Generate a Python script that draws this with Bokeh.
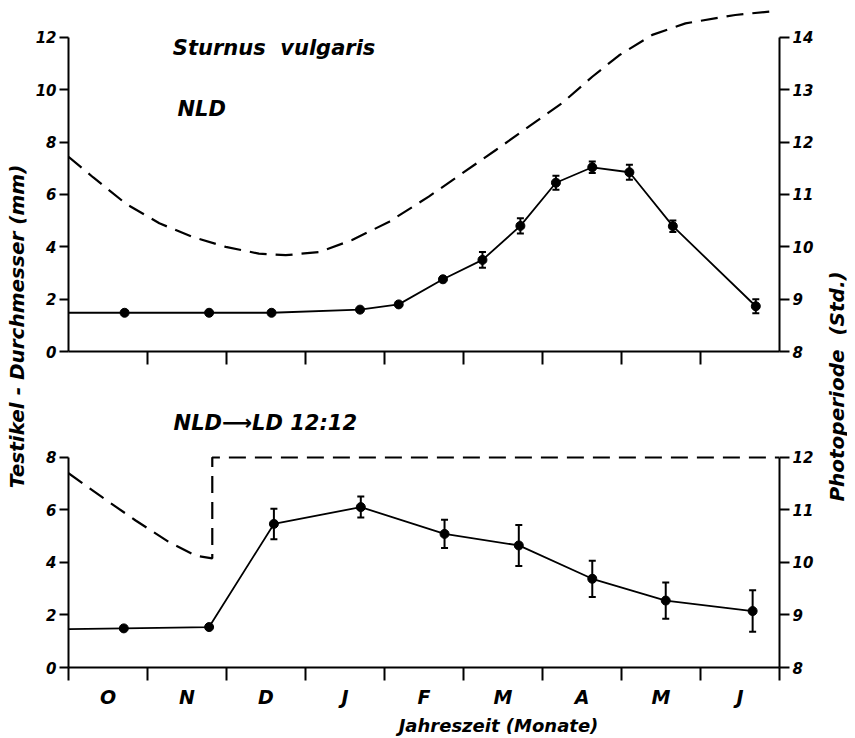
from math import pi
from bokeh.plotting import figure
from bokeh.layouts import row, column
from bokeh.models import (ColumnDataSource, Range1d, LinearAxis, FixedTicker,
                          Whisker, TeeHead, Label)
from bokeh.embed import file_html
from bokeh.resources import INLINE

FONT = "DejaVu Sans"

# ---------------- data ----------------
month_labels = ["O", "N", "D", "J", "F", "M", "A", "M", "J"]
month_centers = [0.5, 1.5, 2.5, 3.5, 4.5, 5.5, 6.5, 7.5, 8.5]
month_bounds = [0, 1, 2, 3, 4, 5, 6, 7, 8, 9]

# upper panel: natural day length (NLD)
nld_x = [0.71, 1.78, 2.57, 3.69, 4.18, 4.74, 5.24, 5.72, 6.17, 6.63, 7.10, 7.65, 8.70]
nld_mm = [1.48, 1.48, 1.48, 1.60, 1.80, 2.76, 3.50, 4.80, 6.45, 7.04, 6.85, 4.79, 1.73]
nld_err = [0, 0, 0, 0, 0, 0, 0.30, 0.29, 0.27, 0.22, 0.29, 0.22, 0.27]
nld_start_mm = 1.48

nld_photo_x = [0.0, 0.31, 0.73, 1.15, 1.57, 1.99, 2.41, 2.75, 3.17, 3.59, 4.06,
               4.56, 4.98, 5.41, 5.83, 6.25, 6.63, 6.97, 7.39, 7.81, 8.44, 8.9]
nld_photo_h = [11.72, 11.33, 10.82, 10.45, 10.19, 10.00, 9.87, 9.84, 9.90, 10.13, 10.48,
               10.96, 11.40, 11.85, 12.30, 12.75, 13.25, 13.66, 14.05, 14.27, 14.43, 14.50]

# lower panel: NLD -> LD 12:12
ld_x = [0.70, 1.78, 2.60, 3.70, 4.76, 5.70, 6.63, 7.56, 8.66]
ld_mm = [1.49, 1.54, 5.47, 6.11, 5.09, 4.65, 3.38, 2.55, 2.15]
ld_err = [0, 0, 0.58, 0.40, 0.54, 0.78, 0.69, 0.69, 0.79]
ld_start_mm = 1.46

ld_photo_x = [0.0, 0.43, 0.85, 1.27, 1.61, 1.82, 1.82, 9.0]
ld_photo_h = [11.70, 11.24, 10.80, 10.39, 10.13, 10.08, 12.0, 12.0]

top_left_ticks = [0, 2, 4, 6, 8, 10, 12]
top_right_ticks = [8, 9, 10, 11, 12, 13, 14]
bot_left_ticks = [0, 2, 4, 6, 8]
bot_right_ticks = [8, 9, 10, 11, 12]

# ---------------- helpers ----------------
PW = 789   # panel width


def style_axis(ax, size="15px"):
    ax.axis_line_width = 2
    ax.axis_line_color = "black"
    ax.major_tick_line_width = 2
    ax.major_tick_line_color = "black"
    ax.major_tick_in = 0
    ax.minor_tick_line_color = None
    ax.major_label_text_font = FONT
    ax.major_label_text_font_style = "bold italic"
    ax.major_label_text_font_size = size
    ax.major_label_text_color = "black"
    ax.major_label_standoff = 3


def make_panel(height, top_pad, bottom_pad, ymax, x, mm, err, start_mm,
               px, ph, lticks, rticks):
    f = figure(width=PW, height=height, x_range=Range1d(0, 9),
               y_range=Range1d(0, ymax), output_backend="svg",
               toolbar_location=None, x_axis_location=None, y_axis_location=None,
               min_border_left=40, min_border_right=38,
               min_border_top=top_pad, min_border_bottom=bottom_pad)
    f.outline_line_color = None
    f.grid.visible = False
    f.background_fill_color = "white"
    f.extra_y_ranges = {"h": Range1d(8, 8 + ymax / 2.0)}

    la = LinearAxis(ticker=FixedTicker(ticks=lticks), bounds=(lticks[0], lticks[-1]))
    style_axis(la)
    la.major_tick_out = 9
    f.add_layout(la, "left")

    ra = LinearAxis(y_range_name="h", ticker=FixedTicker(ticks=rticks),
                    bounds=(rticks[0], rticks[-1]))
    style_axis(ra)
    ra.major_tick_out = 10
    f.add_layout(ra, "right")

    # dashed photoperiod
    f.line(px, ph, y_range_name="h", line_color="black", line_width=2.2,
           line_dash="17 9")

    # testis diameter
    f.line([0] + x, [start_mm] + mm, line_color="black", line_width=1.8)
    f.scatter(x, mm, size=9, color="black")
    ex = [a for a, e in zip(x, err) if e > 0]
    elo = [m - e for m, e in zip(mm, err) if e > 0]
    ehi = [m + e for m, e in zip(mm, err) if e > 0]
    src = ColumnDataSource(dict(x=ex, lo=elo, hi=ehi))
    f.add_layout(Whisker(base="x", lower="lo", upper="hi", source=src,
                         line_width=2, line_color="black",
                         upper_head=TeeHead(size=7, line_width=2, line_color="black"),
                         lower_head=TeeHead(size=7, line_width=2, line_color="black")))
    return f


def txt(text, x, y, size, xu="data", yu="data", angle=0, align="left",
        style="bold italic"):
    return Label(x=x, y=y, x_units=xu, y_units=yu, text=text, angle=angle,
                 text_font=FONT, text_font_style=style, text_font_size=size,
                 text_color="black", text_align=align, text_baseline="middle")


def blank(width, height):
    f = figure(width=width, height=height, output_backend="svg", toolbar_location=None,
               x_axis_location=None, y_axis_location=None, min_border=0,
               x_range=Range1d(0, 1), y_range=Range1d(0, 1))
    f.outline_line_color = None
    f.grid.visible = False
    return f

# ---------------- upper panel ----------------
T = make_panel(370, 4, 19, 13.261, nld_x, nld_mm, nld_err, nld_start_mm,
               nld_photo_x, nld_photo_h, top_left_ticks, top_right_ticks)
tx = LinearAxis(ticker=FixedTicker(ticks=[], minor_ticks=month_bounds[1:-1]),
                bounds=(0, 9))
style_axis(tx)
tx.minor_tick_line_color = "black"
tx.minor_tick_line_width = 2
tx.minor_tick_in = 0
tx.minor_tick_out = 13
T.add_layout(tx, "below")
T.add_layout(txt("Sturnus \u00a0vulgaris", 1.32, 11.58, "21px"))
T.add_layout(txt("NLD", 1.38, 9.28, "21px"))

# ---------------- lower panel ----------------
B = make_panel(345, 2, 48, 11.238, ld_x, ld_mm, ld_err, ld_start_mm,
               ld_photo_x, ld_photo_h, bot_left_ticks, bot_right_ticks)
bx = LinearAxis(ticker=FixedTicker(ticks=month_centers, minor_ticks=month_bounds),
                bounds=(0, 9))
style_axis(bx, "19px")
bx.major_tick_out = 0
bx.major_tick_line_color = None
bx.minor_tick_line_color = "black"
bx.minor_tick_line_width = 2
bx.minor_tick_in = 0
bx.minor_tick_out = 13
bx.major_label_standoff = 5
bx.major_label_overrides = {c: m for c, m in zip(month_centers, month_labels)}
B.add_layout(bx, "below")
B.add_layout(txt("NLD\u27f6LD  12:12", 1.33, 9.33, "21px"))

# ---------------- x-axis title strip ----------------
XH = 22
XL = blank(PW, XH)
XL.add_layout(txt("Jahreszeit (Monate)", 458 - 28, 12, "18px",
                  xu="screen", yu="screen", align="center"))

H = 370 + 345 + XH

# ---------------- side labels ----------------
L = blank(28, H)
L.add_layout(txt("Testikel - Durchmesser (mm)", 16, H - 326, "20px",
                 xu="screen", yu="screen", angle=pi / 2, align="center"))

R = blank(30, H)
R.add_layout(txt("Photoperiode \u00a0(Std.)", 19, H - 386, "20px",
                 xu="screen", yu="screen", angle=pi / 2, align="center"))

layout = row(L, column(T, B, XL), R)
open("out.html", "w").write(file_html(layout, INLINE))
